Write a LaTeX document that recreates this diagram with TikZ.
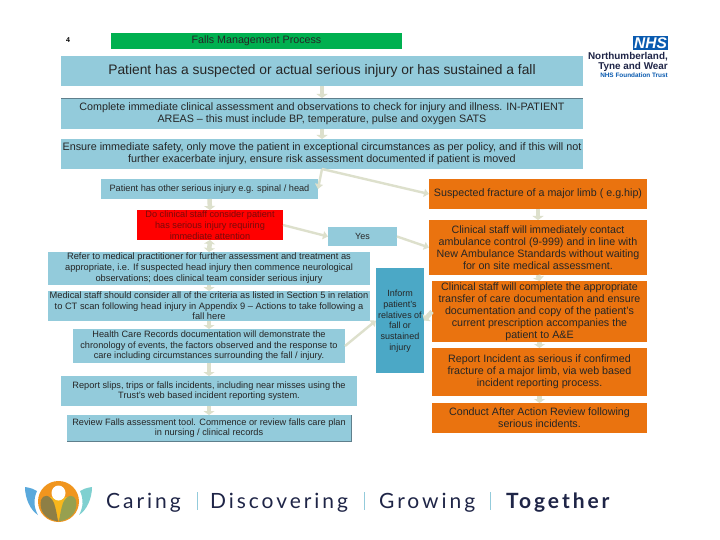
\documentclass[tikz,border=0pt]{standalone}
\usepackage{fontspec}
\setmainfont{Liberation Sans}
\newfontfamily\lato{Lato}[LetterSpace=14]
\usetikzlibrary{arrows.meta}
\definecolor{paleblue}{HTML}{93CBDB}
\definecolor{midblue}{HTML}{4BA8C6}
\definecolor{orangebox}{HTML}{EA730F}
\definecolor{greenbox}{HTML}{00B050}
\definecolor{palearrow}{HTML}{DDE0CC}
\definecolor{inktext}{HTML}{262626}
\definecolor{redtext}{HTML}{7A0A0A}
\definecolor{edgeline}{HTML}{5F7F8C}
\definecolor{navylogo}{HTML}{1F2547}
\definecolor{nhsblue}{HTML}{0A5BB0}
\definecolor{petalblue}{HTML}{5AA9DC}
\definecolor{petalteal}{HTML}{7FD0D0}
\definecolor{ringorange}{HTML}{F0951E}
\definecolor{coreyellow}{HTML}{F8B71C}
\definecolor{leafbrown}{HTML}{8E7F45}
\definecolor{leafolive}{HTML}{97A04F}
\tikzset{
  x=1pt,y=-1pt,
  flowbox/.style={inner sep=0pt,outer sep=0pt,align=center,text=inktext},
  bluebox/.style={flowbox,fill=paleblue},
  orangenode/.style={flowbox,fill=orangebox,font=\fontsize{10.7}{12}\selectfont},
  link/.style={draw=palearrow,line width=4.5pt,-{Triangle[length=4pt,width=11pt]}},
  linkboth/.style={draw=palearrow,line width=4.5pt,{Triangle[length=4pt,width=11pt]}-{Triangle[length=4pt,width=11pt]}},
  slantlink/.style={draw=palearrow,line width=2.4pt,-{Triangle[length=5pt,width=8pt]}},
  tagline/.style={inner sep=0pt,anchor=base west,text=navylogo,font=\lato\fontsize{21}{21}\selectfont},
  sepbar/.style={draw=paleblue,line width=0.8pt},
  edge mark/.style={draw=edgeline,line width=0.7pt}
}
\newcommand{\bx}[7]{\node[#1,minimum width={(#4-#2)*1pt},minimum height={(#5-#3)*1pt}] (#6) at ({(#2+#4)/2},{(#3+#5)/2}) {#7};}
\begin{document}
\begin{tikzpicture}
\useasboundingbox (0,0) rectangle (720,540);
\fill[white] (0,0) rectangle (720,540);

\node[inner sep=0pt,font=\bfseries\fontsize{7}{7}\selectfont] (mark) at (68,40) {4};
\bx{flowbox,fill=greenbox,font=\fontsize{10.7}{12}\selectfont}{111}{33}{402}{49}{title}{Falls Management Process}

\bx{bluebox,font=\fontsize{13.8}{15}\selectfont}{61}{56}{583}{86}{b1}{Patient has a suspected or actual serious injury or has sustained a fall}
\bx{bluebox,font=\fontsize{10.75}{12}\selectfont}{61}{98}{583}{129}{b2}{Complete immediate clinical assessment and observations to check for injury and illness. IN-PATIENT\\AREAS -- this must include BP, temperature, pulse and oxygen SATS}
\bx{bluebox,font=\fontsize{10.8}{12}\selectfont}{61}{139}{583}{169}{b3}{Ensure immediate safety, only move the patient in exceptional circumstances as per policy, and if this will not\\further exacerbate injury, ensure risk assessment documented if patient is moved}
\bx{bluebox,font=\fontsize{9.2}{10}\selectfont}{101}{179}{318}{199}{b4}{Patient has other serious injury e.g. spinal / head}
\bx{flowbox,fill=red,text=redtext,font=\fontsize{9.2}{11}\selectfont}{137}{210}{283}{240}{redq}{Do clinical staff consider patient\\has serious injury requiring\\immediate attention}
\bx{bluebox,font=\fontsize{9}{10}\selectfont}{328}{227}{397}{246}{yes}{Yes}
\bx{bluebox,font=\fontsize{9.3}{11}\selectfont}{48}{252}{370}{285}{refer}{Refer to medical practitioner for further assessment and treatment as\\appropriate, i.e. If suspected head injury then commence neurological\\observations; does clinical team consider serious injury}
\bx{bluebox,font=\fontsize{9.3}{10.5}\selectfont}{48}{291}{370}{321}{medical}{Medical staff should consider all of the criteria as listed in Section 5 in relation\\to CT scan following head injury in Appendix 9 -- Actions to take following a\\fall here}
\bx{bluebox,font=\fontsize{9.2}{10.5}\selectfont}{73}{329}{345}{363}{health}{Health Care Records documentation will demonstrate the\\chronology of events, the factors observed and the response to\\care including circumstances surrounding the fall / injury.}
\bx{bluebox,font=\fontsize{9.2}{10.7}\selectfont}{61}{376}{357}{406}{slips}{Report slips, trips or falls incidents, including near misses using the\\Trust's web based incident reporting system.}
\bx{bluebox,font=\fontsize{9.2}{10.3}\selectfont}{67}{415}{351}{441}{review}{Review Falls assessment tool. Commence or review falls care plan\\in nursing / clinical records}
\node[flowbox,fill=midblue,anchor=north,minimum width=48pt,minimum height=105pt] (inform) at (400,268) {};
\node[inner sep=0pt,align=center,anchor=north,text=inktext,font=\fontsize{9}{10.7}\selectfont] (informtext) at (400,290) {Inform\\patient's\\relatives of\\fall or\\sustained\\injury};

\bx{orangenode}{429}{179}{647}{209}{o1}{Suspected fracture of a major limb ( e.g.hip)}
\bx{orangenode}{429}{220}{647}{275}{o2}{Clinical staff will immediately contact\\ambulance control (9-999) and in line with\\New Ambulance Standards without waiting\\for on site medical assessment.}
\bx{orangenode}{432}{281}{647}{342}{o3}{Clinical staff will complete the appropriate\\transfer of care documentation and ensure\\documentation and copy of the patient's\\current prescription accompanies the\\patient to A\&E}
\bx{orangenode}{432}{348}{647}{396}{o4}{Report Incident as serious if confirmed\\fracture of a major limb, via web based\\incident reporting process.}
\bx{orangenode}{432}{403}{647}{433}{o5}{Conduct After Action Review following\\serious incidents.}

\draw[edge mark] (b2.north west) -- (b2.north east);
\draw[edge mark] (review.north east) -- (review.south east) -- (review.south west);

\draw[link] (b1.south) -- (b2.north);
\draw[link] (b2.south) -- (b3.north);
\draw[slantlink] (b3.south) -- (b4.east);
\draw[slantlink] (b3.south) -- (o1.west);
\draw[link] (b4.south) -- (redq.north);
\draw[slantlink] (redq.east) -- (yes.west);
\draw[slantlink] (yes.east) -- (o2.west);
\draw[linkboth] (redq.south) -- (refer.north);
\draw[link] (refer.south) -- (medical.north);
\draw[link] (medical.south) -- (health.north);
\draw[link] (health.south) -- (slips.north);
\draw[link] (slips.south) -- (review.north);
\draw[slantlink] (health.east) -- (inform.west);
\draw[link] (o3.west) -- (inform.east);
\draw[link] (o1.south) -- (o2.north);
\draw[link] (o2.south) -- (o3.north);
\draw[link] (o3.south) -- (o4.north);
\draw[link] (o4.south) -- (o5.north);

% NHS logo
\node[fill=nhsblue,text=white,inner sep=0pt,minimum width=35pt,minimum height=14pt,font=\bfseries\itshape\fontsize{15.5}{14}\selectfont] (nhs) at (650.5,43) {NHS};
\node[inner sep=0pt,anchor=north east,align=right,text=navylogo,font=\bfseries\fontsize{9.9}{10}\selectfont] (trustname) at (668,52) {Northumberland,\\Tyne and Wear};
\node[inner sep=0pt,anchor=north east,text=nhsblue,font=\bfseries\fontsize{6.4}{7}\selectfont] (trustsub) at (668,72.5) {NHS Foundation Trust};

% Tagline logo
\fill[ringorange] (58.5,501.5) ellipse [x radius=20.5,y radius=20.5];
\fill[coreyellow] (58.5,520) -- (45,497) -- (72,497) -- cycle;
\fill[leafbrown] (58,521.5) .. controls (44,519) and (39,510) .. (41,500) .. controls (43,494) and (50,494) .. (54,503) .. controls (56,509) and (57,515) .. (58,521.5) -- cycle;
\fill[leafolive] (59,521.5) .. controls (73,519) and (78,510) .. (76,500) .. controls (74,494) and (67,494) .. (63,503) .. controls (61,509) and (60,515) .. (59,521.5) -- cycle;
\fill[white] (58.5,493) ellipse [x radius=7,y radius=7.5];
\fill[petalblue] (25,487) .. controls (31,488) and (34,489) .. (37,491) .. controls (33,500) and (34,508) .. (38,515) .. controls (30,510) and (25,498) .. (25,487) -- cycle;
\fill[petalteal] (92,487) .. controls (86,488) and (83,489) .. (80,491) .. controls (84,500) and (83,508) .. (79,515) .. controls (87,510) and (92,498) .. (92,487) -- cycle;
\node[tagline] (caring) at (106,508) {Caring};
\draw[sepbar] (197,492) -- (197,510);
\node[tagline] (discovering) at (210,508) {Discovering};
\draw[sepbar] (364,492) -- (364,510);
\node[tagline] (growing) at (379,508) {Growing};
\draw[sepbar] (490,492) -- (490,510);
\node[tagline,font=\lato\bfseries\fontsize{21}{21}\selectfont] (together) at (506,508) {Together};
\end{tikzpicture}
\end{document}
